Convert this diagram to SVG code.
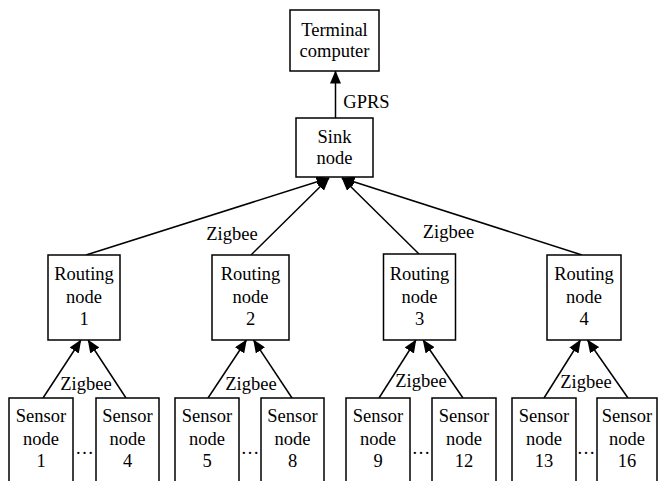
<svg xmlns="http://www.w3.org/2000/svg" width="658" height="481" viewBox="0 0 658 481">
<style>
rect{fill:#fff;stroke:#000;stroke-width:1.5}
text{font-family:"Liberation Serif","Times New Roman",serif;font-size:18.5px;fill:#000;text-anchor:middle}
.e line{stroke:#000;stroke-width:1.5;marker-end:url(#ah)}
</style>
<defs>
<marker id="ah" markerUnits="userSpaceOnUse" markerWidth="13" markerHeight="11" viewBox="0 0 13 11" refX="12.5" refY="5.5" orient="auto">
<path d="M0,0 L13,5.5 L0,11 z" fill="#000"/>
</marker>
</defs>
<g class="e" id="connectors">
<line x1="335.5" y1="118" x2="335.5" y2="71"/>
<line x1="86" y1="255" x2="329" y2="178"/>
<line x1="251" y1="255" x2="329" y2="178"/>
<line x1="419" y1="254" x2="342" y2="178"/>
<line x1="582" y1="255" x2="342" y2="178"/>
<line x1="43" y1="398" x2="81" y2="340"/>
<line x1="126" y1="398" x2="88" y2="340"/>
<line x1="208" y1="398" x2="246.5" y2="340"/>
<line x1="292" y1="398" x2="253.5" y2="340"/>
<line x1="379" y1="398" x2="416" y2="340"/>
<line x1="463" y1="398" x2="423" y2="340"/>
<line x1="544" y1="398" x2="580.5" y2="340"/>
<line x1="628" y1="398" x2="587.5" y2="340"/>
</g>
<g id="labels">
<text x="366.5" y="108">GPRS</text>
<text x="232" y="240">Zigbee</text>
<text x="448.5" y="238">Zigbee</text>
<text x="86" y="390">Zigbee</text>
<text x="251" y="390">Zigbee</text>
<text x="421" y="387">Zigbee</text>
<text x="586" y="388">Zigbee</text>
</g>
<g id="terminal"><rect x="290" y="10" width="89" height="61"/><text x="334.5" y="36">Terminal</text><text x="334.5" y="57">computer</text></g>
<g id="sink"><rect x="296" y="118" width="77" height="59"/><text x="334.5" y="143">Sink</text><text x="334.5" y="164">node</text></g>
<g id="routing1"><rect x="48" y="255" width="72" height="85"/><text x="84" y="280">Routing</text><text x="84" y="303">node</text><text x="84" y="325">1</text></g>
<g id="routing2"><rect x="212" y="255" width="77" height="85"/><text x="250.5" y="280">Routing</text><text x="250.5" y="303">node</text><text x="250.5" y="325">2</text></g>
<g id="routing3"><rect x="383.5" y="254" width="72" height="86"/><text x="419.5" y="280">Routing</text><text x="419.5" y="303">node</text><text x="419.5" y="325">3</text></g>
<g id="routing4"><rect x="547" y="255" width="74" height="85"/><text x="584" y="280">Routing</text><text x="584" y="303">node</text><text x="584" y="325">4</text></g>
<g id="sensor1"><rect x="9" y="398" width="64" height="95"/><text x="41" y="422">Sensor</text><text x="41" y="445">node</text><text x="41" y="467">1</text></g>
<g id="sensor4"><rect x="96" y="398" width="63" height="95"/><text x="127.5" y="422">Sensor</text><text x="127.5" y="445">node</text><text x="127.5" y="467">4</text></g>
<g id="sensor5"><rect x="175" y="398" width="64" height="95"/><text x="207" y="422">Sensor</text><text x="207" y="445">node</text><text x="207" y="467">5</text></g>
<g id="sensor8"><rect x="261" y="398" width="63" height="95"/><text x="292.5" y="422">Sensor</text><text x="292.5" y="445">node</text><text x="292.5" y="467">8</text></g>
<g id="sensor9"><rect x="346" y="398" width="64" height="95"/><text x="378" y="422">Sensor</text><text x="378" y="445">node</text><text x="378" y="467">9</text></g>
<g id="sensor12"><rect x="432" y="398" width="64" height="95"/><text x="464" y="422">Sensor</text><text x="464" y="445">node</text><text x="464" y="467">12</text></g>
<g id="sensor13"><rect x="512" y="398" width="64" height="95"/><text x="544" y="422">Sensor</text><text x="544" y="445">node</text><text x="544" y="467">13</text></g>
<g id="sensor16"><rect x="597" y="398" width="60" height="95"/><text x="627" y="422">Sensor</text><text x="627" y="445">node</text><text x="627" y="467">16</text></g>
<g id="dots">
<text x="84.5" y="454">…</text>
<text x="250" y="454">…</text>
<text x="421" y="454">…</text>
<text x="586" y="454">…</text>
</g>
</svg>
